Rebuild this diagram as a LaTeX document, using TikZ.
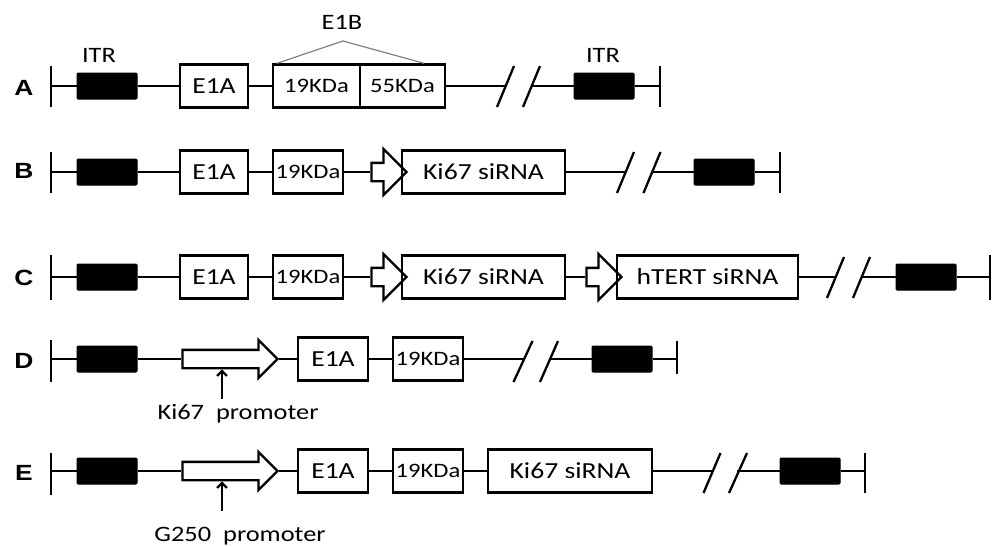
\documentclass[tikz,border=0pt]{standalone}
\usepackage{fontspec}
\setmainfont[FakeStretch=1.2]{Carlito}
\newfontfamily\rowfont[FakeStretch=1.2]{Liberation Sans}
\usetikzlibrary{shapes.arrows,arrows.meta}

\tikzset{
	bb/.style={line width=2.3pt},
	gene/.style={draw, line width=2.3pt, minimum height=43pt, inner sep=1pt, font=\fontsize{23}{25}\selectfont},
	kda/.style={gene, font=\fontsize{20.5}{22}\selectfont},
	itr/.style={draw, fill=black, line width=1pt, rounded corners=1pt, minimum width=60pt, minimum height=26pt, inner sep=0pt},
	prom/.style={single arrow, draw, line width=2.3pt, inner xsep=0pt, inner ysep=8pt, single arrow head extend=10pt, minimum height=95pt},
	sirarr/.style={single arrow, draw, line width=2.3pt, inner xsep=0pt, inner ysep=8pt, single arrow head extend=14pt, minimum height=35pt},
	rowlab/.style={font=\rowfont\bfseries\fontsize{22}{24}\selectfont},
	lab/.style={font=\fontsize{22}{24}\selectfont},
	uparr/.style={line width=2.3pt, -{Straight Barb[length=5pt,width=10pt]}}
}

\begin{document}
\begin{tikzpicture}[x=1pt, y=-1pt]
	\useasboundingbox (0,0) rectangle (995,546);

	% A: wild type
	\node[rowlab] (labA) at (24,88) {A};
	\coordinate (lA) at (51,86);
	\node[itr] (itrA1) at (107,86) {};
	\node[gene, minimum width=68pt] (e1aA) at (214,86) {E1A};
	\node[kda, minimum width=87pt] (k19A) at (316.5,86) {19KDa};
	\node[kda, minimum width=85pt] (k55A) at (402.5,86) {55KDa};
	\coordinate (sA1) at (505,86);
	\coordinate (sA2) at (531,86);
	\node[itr] (itrA2) at (604,86) {};
	\coordinate (rA) at (660,86);

	\node[lab] (itrlab1) at (99,55) {ITR};
	\node[lab] (itrlab2) at (603,55) {ITR};
	\node[lab] (e1b) at (342,22) {E1B};
	\coordinate (apex) at (343,41);
	\draw[gray, line width=1.2pt] ([xshift=5pt]k19A.north west) -- (apex) -- ([xshift=-22pt]k55A.north east);

	\draw[bb] (lA) -- (itrA1) -- (e1aA) -- (k19A);
	\draw[bb] (k55A) -- (sA1);
	\draw[bb] (sA2) -- (itrA2) -- (rA);
	\draw[bb] (lA) ++(0,-20) -- ++(0,41);
	\draw[bb] (rA) ++(0,-20) -- ++(0,41);
	\draw[bb] (sA1) ++(-8,21) -- ++(17,-41);
	\draw[bb] (sA2) ++(-8,21) -- ++(17,-41);

	% B: Ki67 siRNA
	\node[rowlab] (labB) at (24,171) {B};
	\coordinate (lB) at (51,172);
	\node[itr] (itrB1) at (107,172) {};
	\node[gene, minimum width=68pt] (e1aB) at (214,172) {E1A};
	\node[kda, minimum width=70pt] (k19B) at (308,172) {19KDa};
	\node[sirarr] (arB) at (384.5,172) {};
	\node[gene, minimum width=163pt] (kiB) at (483.5,172) {Ki67 siRNA};
	\coordinate (sB1) at (625,172);
	\coordinate (sB2) at (651.5,172);
	\node[itr] (itrB2) at (724,172) {};
	\coordinate (rB) at (780,172);

	\draw[bb] (lB) -- (itrB1) -- (e1aB) -- (k19B) -- (arB);
	\draw[bb] (kiB) -- (sB1);
	\draw[bb] (sB2) -- (itrB2) -- (rB);
	\draw[bb] (lB) ++(0,-20) -- ++(0,41);
	\draw[bb] (rB) ++(0,-20) -- ++(0,41);
	\draw[bb] (sB1) ++(-8,21) -- ++(17,-41);
	\draw[bb] (sB2) ++(-8,21) -- ++(17,-41);

	% C: Ki67 and hTERT siRNA
	\node[rowlab] (labC) at (24,278) {C};
	\coordinate (lC) at (51,277);
	\node[itr] (itrC1) at (107,277) {};
	\node[gene, minimum width=68pt] (e1aC) at (214,277) {E1A};
	\node[kda, minimum width=70pt] (k19C) at (308,277) {19KDa};
	\node[sirarr] (arC1) at (384.5,277) {};
	\node[gene, minimum width=163pt] (kiC) at (483.5,277) {Ki67 siRNA};
	\node[sirarr] (arC2) at (599.5,277) {};
	\node[gene, minimum width=181pt] (htC) at (707.5,277) {hTERT siRNA};
	\coordinate (sC1) at (835,277);
	\coordinate (sC2) at (861,277);
	\node[itr] (itrC2) at (926,277) {};
	\coordinate (rC) at (990,277);

	\draw[bb] (lC) -- (itrC1) -- (e1aC) -- (k19C) -- (arC1);
	\draw[bb] (kiC) -- (arC2);
	\draw[bb] (htC) -- (sC1);
	\draw[bb] (sC2) -- (itrC2) -- (rC);
	\draw[bb] (lC) ++(0,-22) -- ++(0,45);
	\draw[bb] (rC) ++(0,-22) -- ++(0,45);
	\draw[bb] (sC1) ++(-8,21) -- ++(17,-41);
	\draw[bb] (sC2) ++(-8,21) -- ++(17,-41);

	% D: Ki67 promoter
	\node[rowlab] (labD) at (24,361) {D};
	\coordinate (lD) at (51,359);
	\node[itr] (itrD1) at (107,359) {};
	\node[prom] (promD) at (225.5,359) {};
	\node[gene, minimum width=70pt] (e1aD) at (333,359) {E1A};
	\node[kda, minimum width=70pt] (k19D) at (428,359) {19KDa};
	\coordinate (sD1) at (522.5,359);
	\coordinate (sD2) at (549,359);
	\node[itr] (itrD2) at (622,359) {};
	\coordinate (rD) at (677,359);

	\draw[bb] (lD) -- (itrD1) -- (promD) -- (e1aD) -- (k19D) -- (sD1);
	\draw[bb] (sD2) -- (itrD2) -- (rD);
	\draw[bb] (lD) ++(0,-19) -- ++(0,42);
	\draw[bb] (rD) ++(0,-18) -- ++(0,33);
	\draw[bb] (sD1) ++(-9,23) -- ++(19,-41);
	\draw[bb] (sD2) ++(-9,23) -- ++(18,-41);

	\node[lab] (kipro) at (238,414) {Ki67\ \ promoter};
	\coordinate (pD) at (222,399);
	\draw[uparr] (pD) -- (pD |- promD.south);

	% E: G250 promoter
	\node[rowlab] (labE) at (24,473) {E};
	\coordinate (lE) at (51,471);
	\node[itr] (itrE1) at (107,471) {};
	\node[prom] (promE) at (225.5,471) {};
	\node[gene, minimum width=70pt] (e1aE) at (333,471) {E1A};
	\node[kda, minimum width=70pt] (k19E) at (428,471) {19KDa};
	\node[gene, minimum width=164pt] (kiE) at (570,471) {Ki67 siRNA};
	\coordinate (sE1) at (711.5,471);
	\coordinate (sE2) at (737,471);
	\node[itr] (itrE2) at (810,471) {};
	\coordinate (rE) at (865,471);

	\draw[bb] (lE) -- (itrE1) -- (promE) -- (e1aE) -- (k19E) -- (kiE) -- (sE1);
	\draw[bb] (sE2) -- (itrE2) -- (rE);
	\draw[bb] (lE) ++(0,-18) -- ++(0,42);
	\draw[bb] (rE) ++(0,-18) -- ++(0,40);
	\draw[bb] (sE1) ++(-8,22) -- ++(17,-40);
	\draw[bb] (sE2) ++(-8,22) -- ++(18,-40);

	\node[lab] (gpro) at (240,536) {G250\ \ promoter};
	\coordinate (pE) at (222,511);
	\draw[uparr] (pE) -- (pE |- promE.south);
\end{tikzpicture}
\end{document}
